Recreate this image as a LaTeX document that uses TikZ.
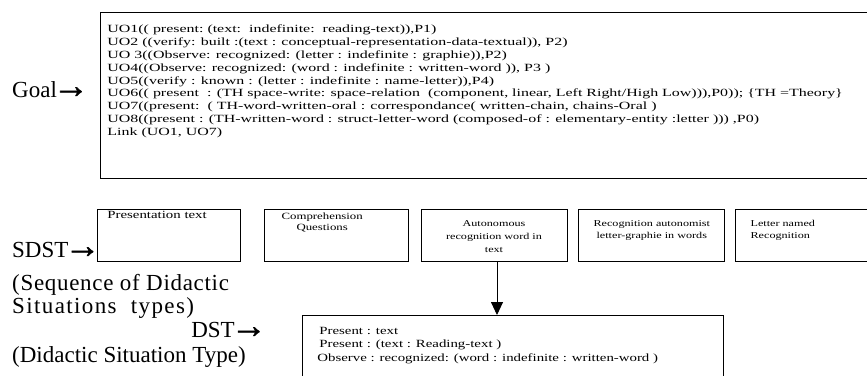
\documentclass[tikz,border=0pt]{standalone}
\usepackage{fontspec}
\setmainfont{Liberation Serif}
\newfontfamily\boxfont{Liberation Serif}[FakeStretch=1.35]
\newfontfamily\goalfont{Liberation Serif}[FakeStretch=1.45]
\newfontfamily\arrowfont{Liberation Serif}[FakeBold=1.5]
\usetikzlibrary{positioning,arrows.meta}
\tikzset{
    node distance=10pt, % gap between the situation boxes
    }

\begin{document}
\begin{tikzpicture}[x=1pt,y=-1pt,
framebox/.style={rectangle, draw=black, line width=0.8pt, inner ysep=0pt, anchor=north west},
sitbox/.style={rectangle, draw=black, line width=0.8pt, inner sep=0pt},
biglabel/.style={inner sep=0pt, font=\fontsize{23}{27}\selectfont},
]
\useasboundingbox (0,0) rectangle (867,375);
\clip (0,0) rectangle (867,375);

% goal
\node[biglabel, anchor=base west] (goal) at (12,97.6) {Goal\kern-4pt{\arrowfont\fontsize{36}{36}\selectfont→}};
\node[framebox, inner xsep=7pt, font=\goalfont\fontsize{11}{12.9}\selectfont] (goalbox) at (100,12) {\parbox[t][166pt][t]{780pt}{\vspace{11pt}%
\strut UO1(( present:\ (text:\ \ indefinite:\ \ reading-text)),P1)\\
UO2 ((verify: built :(text : conceptual-representation-data-textual)), P2)\\
UO 3((Observe: recognized: (letter : indefinite : graphie)),P2)\\
UO4((Observe: recognized: (word : indefinite : written-word )), P3 )\\
UO5((verify : known : (letter : indefinite : name-letter)),P4)\\
UO6(( present\ \ : (TH space-write: space-relation\ \ (component, linear, Left Right/High Low))),P0)); \{TH =Theory\}\\
UO7((present:\ \ ( TH-word-written-oral : correspondance( written-chain, chains-Oral )\\
UO8((present : (TH-written-word : struct-letter-word (composed-of : elementary-entity :letter ))) ,P0)\\
Link (UO1, UO7)}};

% sequence of situations
\node[sitbox, anchor=north west, font=\boxfont\fontsize{11}{12}\selectfont] (box1) at (97,209) {\parbox[c][52pt][t]{143pt}{\vspace{1pt}\hspace*{10pt}\strut Presentation text}};
\node[sitbox, font=\boxfont\fontsize{9.5}{11}\selectfont] (box2) [right=23pt of box1] {\parbox[c][52pt][t]{144pt}{\vspace{2pt}\makebox[116pt]{\begin{tabular}[t]{@{}c@{}}\strut Comprehension\\Questions\end{tabular}}}};
\node[sitbox, font=\boxfont\fontsize{9}{13}\selectfont] (box3) [right=12pt of box2] {\parbox[c][52pt][t]{146pt}{\centering\vspace{8pt}\strut Autonomous\\recognition word in\\text}};
\node[sitbox, font=\boxfont\fontsize{9}{12}\selectfont] (box4) [right=11pt of box3] {\parbox[c][52pt][t]{146pt}{\centering\vspace{9pt}\strut Recognition autonomist\\letter-graphie in words}};
\node[sitbox, font=\boxfont\fontsize{9}{12}\selectfont] (box5) [right=10pt of box4] {\parbox[c][52pt][t]{150pt}{\vspace{9pt}\hspace*{15pt}\strut Letter named\\\hspace*{15pt}Recognition}};

\node[biglabel, anchor=base west] (sdst) at (12,257.6) {SDST\kern-4pt{\arrowfont\fontsize{36}{36}\selectfont→}};
\node[biglabel, anchor=west] (sdstname) at (12,285) {\addfontfeature{LetterSpace=3}(Sequence of Didactic};
\node[biglabel, anchor=west] (sdstname2) at (12,308) {\addfontfeature{LetterSpace=6}Situations\ \ types)};

% chosen situation type
\node[framebox, inner xsep=17pt, font=\boxfont\fontsize{11}{13.5}\selectfont] (dstbox) at (302,315) {\parbox[t][80pt][t]{387pt}{\vspace{9.5pt}%
\strut Present : text\\
Present : (text : Reading-text )\\
\hspace*{-2pt}Observe : recognized: (word : indefinite : written-word )}};

\node[biglabel, anchor=base east] (dst) at (267,337.6) {DST\kern-4pt{\arrowfont\fontsize{36}{36}\selectfont→}};
\node[biglabel, anchor=west] (dstname) at (12,357) {(Didactic Situation Type)};

\draw[line width=0.9pt, -{Triangle[length=13pt,width=12pt]}] ([xshift=3pt]box3.south) -- ([xshift=3pt]box3.south |- dstbox.north);
\end{tikzpicture}
\end{document}
